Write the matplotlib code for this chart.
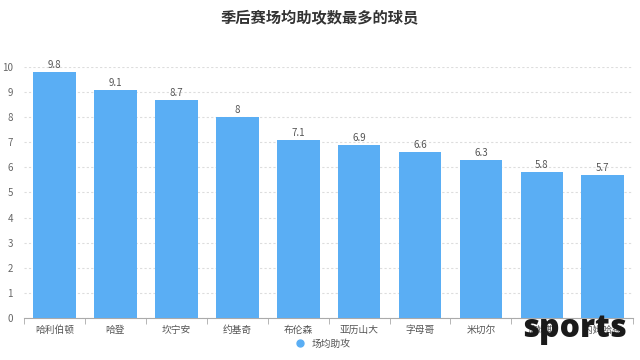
import matplotlib
matplotlib.use("Agg")
import matplotlib.pyplot as plt
from matplotlib.lines import Line2D

plt.rcParams['font.family'] = ['Noto Sans CJK SC', 'DejaVu Sans']

players = ['哈利伯顿', '哈登', '坎宁安', '约基奇', '布伦森', '亚历山大', '字母哥', '米切尔', '詹姆斯', '内姆哈德']
assists = [9.8, 9.1, 8.7, 8, 7.1, 6.9, 6.6, 6.3, 5.8, 5.7]
value_labels = ['9.8', '9.1', '8.7', '8', '7.1', '6.9', '6.6', '6.3', '5.8', '5.7']

bar_color = '#5aaef4'

fig = plt.figure(figsize=(6.4, 3.6), dpi=100)
ax = fig.add_axes([0.0375, 0.117, 0.952, 0.697])

x = range(len(players))
bars = ax.bar(x, assists, width=0.70, color=bar_color, zorder=3)
for bar, lab in zip(bars, value_labels):
    ax.text(bar.get_x() + bar.get_width() / 2, bar.get_height() + 0.08, lab,
            ha='center', va='bottom', fontsize=7, color='#555555', zorder=4)

ax.set_xlim(-0.5, len(players) - 0.5)
ax.set_ylim(0, 10)
ax.set_yticks(range(0, 11))
ax.set_xticks(list(x))
ax.set_xticklabels(players)
ax.grid(axis='y', linestyle=(0, (2, 2)), color='#dddddd', linewidth=0.8, zorder=0)
ax.tick_params(axis='y', length=0, labelsize=7, colors='#666666', pad=8)
ax.tick_params(axis='x', length=0, labelsize=7, colors='#555555', pad=5)
# category separator ticks on the bottom axis
ax.set_xticks([i - 0.5 for i in range(len(players) + 1)], minor=True)
ax.tick_params(axis='x', which='minor', length=4, color='#aaaaaa')
for s in ['top', 'right', 'left']:
    ax.spines[s].set_visible(False)
ax.spines['bottom'].set_color('#aaaaaa')

fig.text(0.5, 0.953, '季后赛场均助攻数最多的球员', ha='center', va='center',
         fontsize=11, fontweight='bold', color='#333333')

handle = Line2D([], [], marker='o', linestyle='', color=bar_color, markersize=5)
fig.legend([handle], ['场均助攻'], loc='center', bbox_to_anchor=(0.5, 0.045),
           frameon=False, fontsize=7, handletextpad=0.2, labelcolor='#555555')

# watermark
fig.text(0.897, 0.087, 'sports', ha='center', va='center', fontsize=23,
         fontweight='heavy', color='#1a1a1a', family=['Open Sans', 'DejaVu Sans'])

fig.savefig('out.png', dpi=100)
